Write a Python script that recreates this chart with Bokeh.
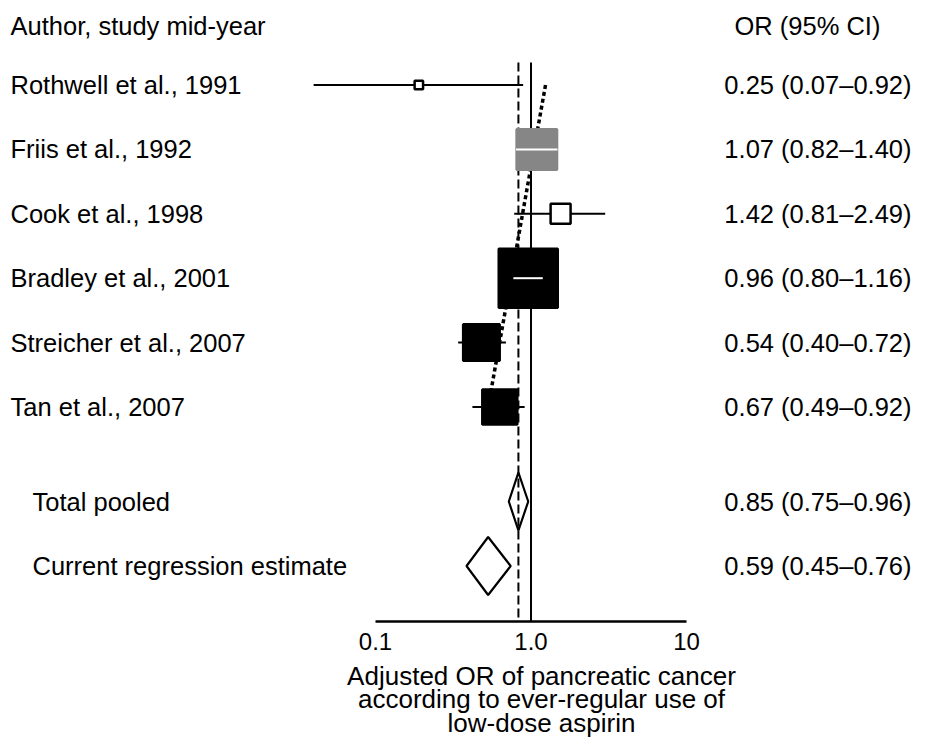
import numpy as np
from bokeh.plotting import figure
from bokeh.layouts import column
from bokeh.models import Range1d, FixedTicker, ColumnDataSource
from bokeh.core.properties import value
from bokeh.embed import file_html
from bokeh.resources import INLINE

# ---------------- data ----------------
studies = ["Rothwell et al., 1991", "Friis et al., 1992", "Cook et al., 1998",
           "Bradley et al., 2001", "Streicher et al., 2007", "Tan et al., 2007"]
or_labels = ["0.25 (0.07\u20130.92)", "1.07 (0.82\u20131.40)", "1.42 (0.81\u20132.49)",
             "0.96 (0.80\u20131.16)", "0.54 (0.40\u20130.72)", "0.67 (0.49\u20130.92)"]
est = [0.19, 1.09, 1.55, 0.96, 0.48, 0.63]
ci_lo = [0.040, 0.80, 0.78, 0.77, 0.34, 0.42]
ci_hi = [0.89, 1.48, 3.0, 1.19, 0.69, 0.91]
weights = [1.3, 20.1, 5.5, 41.2, 16.6, 15.3]   # relative study weight (%)

summary_names = ["Total pooled", "Current regression estimate"]
summary_labels = ["0.85 (0.75\u20130.96)", "0.59 (0.45\u20130.76)"]
summary_est = [0.83, 0.53]
summary_lo = [0.72, 0.385]
summary_hi = [0.96, 0.74]

reg_line_or = [1.24, 0.53]        # meta-regression line, first and last study
ticks = [0.1, 1.0, 10.0]
tick_labels = ["0.1", "1.0", "10"]

header_left = "Author, study mid-year"
header_right = "OR (95% CI)"
axis_title = ["Adjusted OR of pancreatic cancer",
              "according to ever-regular use of",
              "low-dose aspirin"]

# ---------------- layout helpers ----------------
X_ONE = 530.5     # px of OR = 1
DEC = 155.5       # px per decade
ROW0 = 84.5       # px of first row
ROWH = 64.4       # px per row
FONT = value("Liberation Sans")
TS = value("25.5px")


def xpx(ix):
    return 10 ** ((ix - X_ONE) / DEC)


def ypx(iy):
    return (iy - ROW0) / ROWH


W, H = 912, 737
FRAME_B = 623
H1 = 660
xr = Range1d(xpx(0), xpx(W))

p = figure(width=W, height=H1, x_axis_type="log", x_range=xr,
           y_range=Range1d(ypx(FRAME_B), ypx(0)),
           output_backend="svg", toolbar_location=None,
           min_border_left=0, min_border_right=0, min_border_top=0,
           min_border_bottom=H1 - FRAME_B, y_axis_location=None)
p.grid.visible = False
p.outline_line_color = None
p.background_fill_color = "white"
p.border_fill_color = "white"

ax = p.xaxis[0]
ax.ticker = FixedTicker(ticks=ticks)
ax.major_label_overrides = {t: l for t, l in zip(ticks, tick_labels)}
ax.axis_line_color = None
ax.major_tick_line_color = None
ax.minor_tick_line_color = None
ax.major_tick_out = 0
ax.major_tick_in = 0
ax.major_label_text_font = "Liberation Sans"
ax.major_label_text_font_size = "24px"
ax.major_label_text_color = "black"
ax.major_label_standoff = 9

rows = list(range(len(studies)))
sum_rows = [ypx(501), ypx(565.5)]
axis_y = ypx(621)
line_top = ypx(62)

# reference lines
p.segment(x0=[1.0], y0=[line_top], x1=[1.0], y1=[axis_y], line_color="black", line_width=2)
p.segment(x0=[summary_est[0]], y0=[line_top], x1=[summary_est[0]], y1=[axis_y],
          line_color="black", line_width=2, line_dash="9 4")
# axis line
p.segment(x0=[ticks[0]], y0=[axis_y], x1=[ticks[-1]], y1=[axis_y], line_color="black", line_width=2.5)

# regression line
p.line(x=reg_line_or, y=[rows[0], rows[-1]], line_color="black", line_width=3.5, line_dash="4 3")

# CIs
p.segment(x0=ci_lo, y0=rows, x1=ci_hi, y1=rows, line_color="black", line_width=2)

# boxes
LW = 2.5
sides = [np.sqrt(w * 91.85) for w in weights]
fills = ["white", "#868686", "white", "black", "black", "black"]
lines = ["black", "#868686", "black", "black", "black", "black"]
src = ColumnDataSource(dict(x=est, y=rows, size=[s - LW for s in sides], fill=fills, line=lines))
p.scatter(x="x", y="y", size="size", marker="square", fill_color="fill", line_color="line",
          line_width=LW, source=src)

# white CI inside filled boxes when fully enclosed
ix0, iy0, ix1 = [], [], []
for e, lo, hi, s, f, r in zip(est, ci_lo, ci_hi, sides, fills, rows):
    c = np.log10(e) * DEC
    if f != "white" and np.log10(lo) * DEC >= c - s / 2 and np.log10(hi) * DEC <= c + s / 2:
        ix0.append(lo); ix1.append(hi); iy0.append(r)
p.segment(x0=ix0, y0=iy0, x1=ix1, y1=iy0, line_color="white", line_width=2)

# diamonds
h = 0.45
xs = [[lo, e, hi, e] for lo, e, hi in zip(summary_lo, summary_est, summary_hi)]
ys = [[r, r - h, r, r + h] for r in sum_rows]
p.patches(xs=xs, ys=ys, fill_color=None, line_color="black", line_width=2.2)

# texts
p.text(x=[xpx(10)] * len(studies), y=rows, text=studies, text_font=FONT, text_font_size=TS,
       text_baseline="middle", text_align="left", text_color="black")
p.text(x=[xpx(32)] * 2, y=sum_rows, text=summary_names, text_font=FONT, text_font_size=TS,
       text_baseline="middle", text_align="left", text_color="black")
p.text(x=[xpx(911)] * (len(studies) + 2), y=rows + sum_rows, text=or_labels + summary_labels,
       text_font=FONT, text_font_size=TS, text_baseline="middle", text_align="right", text_color="black")
hy = ypx(25)
p.text(x=[xpx(10)], y=[hy], text=[header_left], text_font=FONT, text_font_size=TS,
       text_baseline="middle", text_align="left", text_color="black")
p.text(x=[xpx(734)], y=[hy], text=[header_right], text_font=FONT, text_font_size=TS,
       text_baseline="middle", text_align="left", text_color="black")

# axis title strip (same x scale)
p2 = figure(width=W, height=H - H1, x_axis_type="log", x_range=xr,
            y_range=Range1d(ypx(H), ypx(H1)),
            output_backend="svg", toolbar_location=None,
            min_border_left=0, min_border_right=0, min_border_top=0, min_border_bottom=0,
            x_axis_location=None, y_axis_location=None)
p2.grid.visible = False
p2.outline_line_color = None
p2.background_fill_color = "white"
p2.border_fill_color = "white"
p2.text(x=[xpx(541)] * 3, y=[ypx(v) for v in (675, 698.5, 722)], text=axis_title,
        text_font=FONT, text_font_size=value("26px"), text_baseline="middle",
        text_align="center", text_color="black")

layout = column(p, p2, spacing=0)
open("out.html", "w").write(file_html(layout, INLINE))
